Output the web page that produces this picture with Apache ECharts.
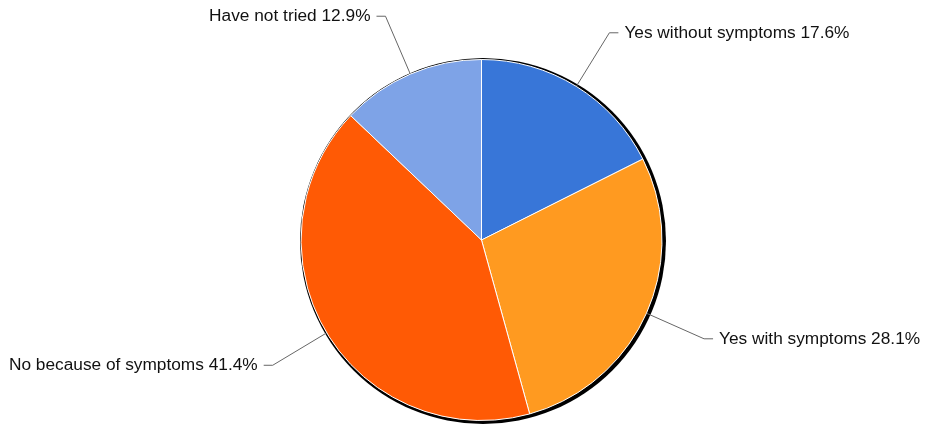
<!DOCTYPE html>
<html>
<head>
<meta charset="utf-8">
<script src="https://cdn.jsdelivr.net/npm/echarts@6/dist/echarts.min.js"></script>
<style>html,body{margin:0;padding:0;background:#fff}#c{width:930px;height:425px}</style>
</head>
<body>
<div id="c"></div>
<script>
var categories = ["Yes without symptoms", "Yes with symptoms", "No because of symptoms", "Have not tried"];
var values = [17.6, 28.1, 41.4, 12.9];
var colors = ["#3876d8", "#ff9a20", "#ff5a05", "#7ea3e7"];

var chart = echarts.init(document.getElementById('c'), null, {renderer: 'canvas'});
var data = categories.map(function (n, i) {
  return { name: n, value: values[i], itemStyle: { color: colors[i] } };
});
chart.setOption({
  animation: false,
  series: [
    {
      type: 'pie',
      silent: true,
      center: [483, 241],
      radius: 183,
      startAngle: 90,
      label: { show: false },
      labelLine: { show: false },
      itemStyle: { color: '#000', borderWidth: 0 },
      data: [{ value: 1, name: '' }],
      z: 1
    },
    {
      type: 'pie',
      center: [481.5, 240],
      radius: 180.5,
      startAngle: 90,
      clockwise: true,
      avoidLabelOverlap: false,
      itemStyle: { borderColor: '#fff', borderWidth: 1 },
      label: {
        show: true,
        formatter: function (p) { return p.name + ' ' + p.value.toFixed(1) + '%'; },
        fontFamily: 'Liberation Sans',
        fontSize: 17.3,
        color: '#111',
        distanceToLabelLine: 6
      },
      labelLine: {
        show: true,
        length: 63,
        length2: 9,
        lineStyle: { color: '#666', width: 1 }
      },
      data: data,
      z: 2
    }
  ]
});
</script>
</body>
</html>
